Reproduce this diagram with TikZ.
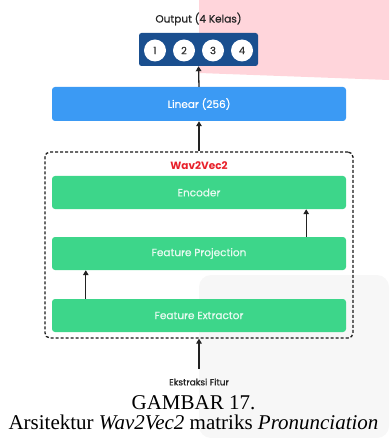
\documentclass[tikz,border=0pt]{standalone}
\usepackage{fontspec}
\setmainfont{Liberation Serif}
\newfontfamily\pop[FakeBold=0.6]{Poppins}
\newfontfamily\popb{Poppins}
\usetikzlibrary{arrows.meta,calc}
\definecolor{outblue}{HTML}{1A4F8F}
\definecolor{linblue}{HTML}{3B9AF4}
\definecolor{grn}{HTML}{3DD68A}
\definecolor{pinkbg}{HTML}{FFD5DB}
\definecolor{graybg}{HTML}{F7F7F7}
\definecolor{redtxt}{HTML}{E8212B}
\definecolor{arrcol}{HTML}{222222}
\tikzset{
  wide/.style={rectangle, rounded corners=3pt, minimum width=294pt, minimum height=33pt, inner sep=0pt, text=white, font=\pop\fontsize{10.5}{12}\selectfont},
  gbox/.style={wide, fill=grn, text=white!88!grn},
  circ/.style={circle, fill=white, minimum size=22pt, inner sep=0pt, text=black!80, font=\pop\fontsize{10}{12}\selectfont},
  arr/.style={draw=arrcol, line width=1.3pt, -{Triangle[length=5pt,width=5.5pt]}},
}
\begin{document}
\begin{tikzpicture}[x=1pt,y=-1pt]
\useasboundingbox (0,0) rectangle (389,438);
% background artifacts
\fill[pinkbg] (199,0) -- (389,0) -- (389,80) -- (199,73) -- cycle;
\fill[graybg, rounded corners=12pt] (199,438) -- (199,275) -- (389,275) -- (389,438) -- cycle;
% title
\node[font=\pop\fontsize{10.5}{12}\selectfont, text=black!85] (title) at (198.5,19) {Output (4 Kelas)};
% output box
\node[rectangle, rounded corners=2.5pt, fill=outblue, minimum width=119pt, minimum height=33pt, inner sep=0pt] (out) at (198.5,49.5) {};
\node[circ] (c1) at (155,50.5) {1};
\node[circ] (c2) at (184,50.5) {2};
\node[circ] (c3) at (213,50.5) {3};
\node[circ] (c4) at (242,50.5) {4};
% linear
\node[wide, fill=linblue, minimum height=34pt] (lin) at (199,104) {Linear (256)};
% wav2vec2 group
\node[rectangle, rounded corners=5pt, draw=black!90, line width=1.3pt, dash pattern=on 3pt off 2pt, minimum width=308pt, minimum height=186pt, inner sep=0pt] (w2v) at (199,245) {};
\node[font=\popb\bfseries\fontsize{10.5}{12}\selectfont, text=redtxt] (wl) at (199,165.5) {Wav2Vec2};
\node[gbox] (enc) at (199,192.5) {Encoder};
\node[gbox] (fp) at (199,253.5) {Feature Projection};
\node[gbox] (fe) at (199,315.5) {Feature Extractor};
% input label
\node[font=\pop\fontsize{9}{10}\selectfont, text=black!85] (ek) at (199,382) {Ekstraksi Fitur};
\coordinate (ekin) at (199,369);
% arrows
\draw[arr] (ekin) -- (w2v.south);
\draw[arr] ($(fe.north west)+(34,0)$) -- ($(fp.south west)+(34,0)$);
\draw[arr] ($(fp.north east)+(-40,0)$) -- ($(enc.south east)+(-40,0)$);
\draw[arr] (w2v.north) -- (lin.south);
\draw[arr] (lin.north) -- (out.south);
% caption
\node[font=\fontsize{21}{20}\selectfont, align=center, inner sep=0pt] (cap) at (193.5,412.5) {GAMBAR 17.\\Arsitektur \textit{Wav2Vec2} matriks \textit{Pronunciation}};
\end{tikzpicture}
\end{document}
